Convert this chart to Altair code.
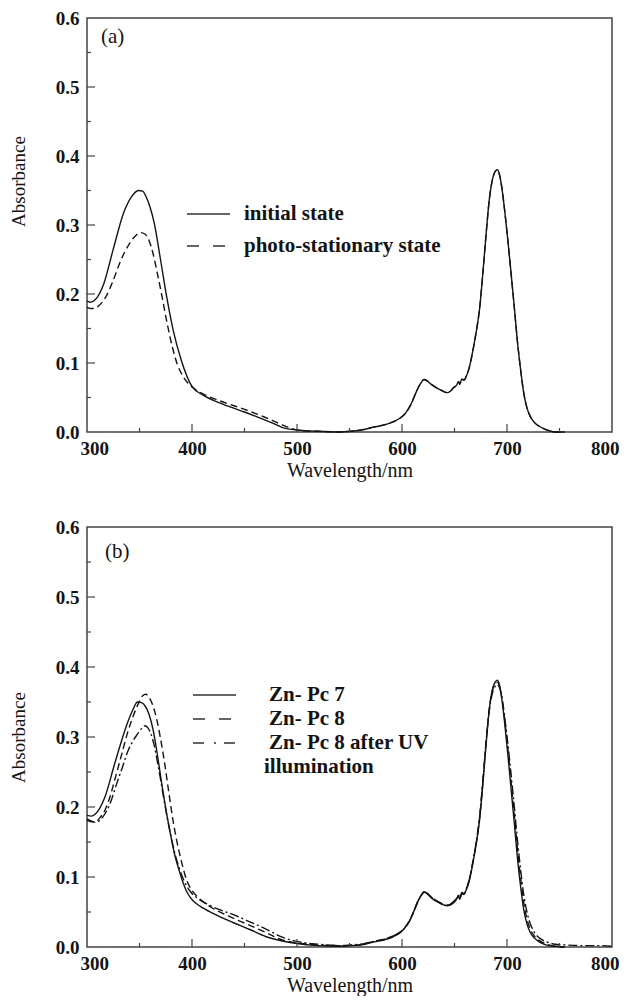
import altair as alt
import pandas as pd

# ---------------- data ----------------
a_init_wl = [300, 303, 308, 316, 325, 335, 342, 349, 353, 356, 360, 364, 370, 376, 382, 390,
             400, 411, 425, 437, 450, 462, 475, 487, 500, 520, 540]
a_init_A = [0.190, 0.188, 0.192, 0.215, 0.265, 0.318, 0.340, 0.350, 0.349, 0.342, 0.326, 0.303,
            0.250, 0.195, 0.148, 0.103, 0.066, 0.053, 0.043, 0.036, 0.029, 0.022, 0.014, 0.006,
            0.003, 0.001, 0.000]
a_photo_wl = [300, 303, 307, 312, 318, 325, 332, 340, 346, 351, 355, 359, 363, 367, 371, 376,
              381, 386, 391, 396, 402, 411, 425, 440, 455, 470, 485, 495, 505, 520, 540]
a_photo_A = [0.181, 0.179, 0.179, 0.184, 0.196, 0.220, 0.248, 0.272, 0.284, 0.289, 0.287, 0.278,
             0.258, 0.230, 0.200, 0.160, 0.125, 0.098, 0.082, 0.071, 0.063, 0.055, 0.046, 0.038,
             0.030, 0.021, 0.011, 0.005, 0.002, 0.001, 0.000]

q_wl = [551, 565, 573, 585, 592, 598, 602, 606, 610, 613, 616, 618, 621, 624, 628, 633, 638,
        643, 646, 649, 652, 654, 655, 657, 659, 661, 664, 668, 671, 674, 677, 680, 683, 686,
        689, 691, 693, 695, 698, 701, 704, 707, 710, 713, 716, 719, 722, 726, 730, 735, 740,
        746, 755]
q_a = [0.001, 0.004, 0.007, 0.011, 0.015, 0.020, 0.025, 0.033, 0.045, 0.056, 0.066, 0.071,
       0.076, 0.074, 0.069, 0.064, 0.060, 0.057, 0.059, 0.064, 0.068, 0.073, 0.069, 0.077,
       0.075, 0.080, 0.093, 0.122, 0.148, 0.180, 0.230, 0.285, 0.335, 0.365, 0.378, 0.380,
       0.372, 0.355, 0.318, 0.275, 0.228, 0.180, 0.130, 0.090, 0.056, 0.035, 0.023, 0.014,
       0.009, 0.005, 0.002, 0.000, 0.000]

b7_wl = [300, 304, 308, 317, 326, 333, 339, 344, 348, 352, 355, 359, 363, 367, 371, 375, 379,
         383, 387, 391, 395, 401, 408, 420, 439, 455, 470, 485, 500, 520, 540]
b7_A = [0.188, 0.187, 0.190, 0.214, 0.260, 0.295, 0.322, 0.340, 0.350, 0.349, 0.345, 0.333,
        0.310, 0.275, 0.235, 0.198, 0.165, 0.135, 0.113, 0.094, 0.079, 0.066, 0.058, 0.048,
        0.035, 0.025, 0.015, 0.009, 0.005, 0.002, 0.001]
q_b7 = [0.002, 0.004, 0.007, 0.011, 0.015, 0.020, 0.026, 0.034, 0.046, 0.058, 0.068, 0.073,
        0.078, 0.076, 0.070, 0.065, 0.061, 0.059, 0.061, 0.065, 0.069, 0.072, 0.068, 0.076,
        0.075, 0.081, 0.094, 0.124, 0.150, 0.183, 0.232, 0.288, 0.338, 0.367, 0.379, 0.381,
        0.373, 0.355, 0.317, 0.272, 0.224, 0.176, 0.126, 0.086, 0.053, 0.033, 0.021, 0.013,
        0.008, 0.004, 0.002, 0.001, 0.000]

b8_wl = [300, 304, 308, 313, 317, 322, 327, 333, 339, 344, 349, 353, 356, 359, 362, 366, 370,
         374, 378, 382, 386, 390, 395, 400, 405, 412, 420, 435, 455, 470, 486, 500, 520, 540]
b8_A = [0.181, 0.179, 0.179, 0.186, 0.195, 0.215, 0.242, 0.275, 0.308, 0.330, 0.348, 0.359,
        0.361, 0.357, 0.348, 0.328, 0.298, 0.262, 0.220, 0.180, 0.148, 0.122, 0.095, 0.081,
        0.072, 0.063, 0.055, 0.044, 0.031, 0.021, 0.010, 0.006, 0.003, 0.002]
q_b8 = [0.002, 0.005, 0.008, 0.012, 0.016, 0.021, 0.027, 0.035, 0.047, 0.058, 0.068, 0.073,
        0.078, 0.077, 0.071, 0.066, 0.062, 0.060, 0.061, 0.064, 0.069, 0.074, 0.071, 0.078,
        0.076, 0.082, 0.096, 0.125, 0.152, 0.186, 0.236, 0.290, 0.338, 0.366, 0.377, 0.378,
        0.372, 0.357, 0.322, 0.280, 0.234, 0.188, 0.140, 0.098, 0.063, 0.040, 0.026, 0.016,
        0.010, 0.006, 0.003, 0.001, 0.000]

buv_wl = [300, 304, 308, 313, 317, 322, 328, 334, 339, 344, 348, 352, 355, 358, 361, 364, 367,
          370, 373, 376, 380, 384, 388, 392, 398, 405, 415, 425, 440, 455, 470, 486, 500, 520, 540]
buv_A = [0.183, 0.180, 0.178, 0.182, 0.190, 0.205, 0.232, 0.258, 0.280, 0.295, 0.304, 0.312,
         0.316, 0.313, 0.304, 0.288, 0.265, 0.240, 0.213, 0.188, 0.158, 0.132, 0.112, 0.096,
         0.080, 0.070, 0.061, 0.054, 0.046, 0.036, 0.026, 0.014, 0.008, 0.004, 0.002]
q_buv = [0.003, 0.005, 0.008, 0.012, 0.016, 0.021, 0.026, 0.034, 0.046, 0.057, 0.067, 0.073,
         0.079, 0.077, 0.071, 0.066, 0.062, 0.059, 0.060, 0.063, 0.068, 0.073, 0.070, 0.077,
         0.076, 0.082, 0.096, 0.126, 0.153, 0.187, 0.238, 0.292, 0.336, 0.362, 0.373, 0.375,
         0.370, 0.358, 0.326, 0.288, 0.245, 0.200, 0.152, 0.110, 0.074, 0.050, 0.034, 0.021,
         0.014, 0.009, 0.006, 0.004, 0.003]
buv_tail_wl = [770, 790, 800]
buv_tail_A = [0.002, 0.002, 0.001]

x_ticks_major = [400, 500, 600, 700]
x_ticks_minor = [350, 450, 550, 650, 750]
y_ticks_major = [0.1, 0.2, 0.3, 0.4, 0.5]
y_ticks_minor = [0.05, 0.15, 0.25, 0.35, 0.45, 0.55]
x_tick_labels = [300, 400, 500, 600, 700, 800]
y_tick_labels = [0.0, 0.1, 0.2, 0.3, 0.4, 0.5, 0.6]

legend_a = ["initial state", "photo-stationary state"]
legend_b = ["Zn- Pc 7", "Zn- Pc 8", "Zn- Pc 8 after UV"]

# ---------------- styling ----------------
SERIF = "Liberation Serif"
INK = "#141414"
X_SCALE = alt.Scale(domain=[300, 800], nice=False, zero=False)
Y_SCALE = alt.Scale(domain=[0, 0.6], nice=False)


def make_x_axis():
    return alt.Axis(values=x_tick_labels, format="d", title="Wavelength/nm", grid=False,
                    domain=False, ticks=False, labelPadding=7, labelFont=SERIF,
                    labelFontWeight="bold", labelFontSize=19, labelColor=INK, titleFont=SERIF,
                    titleFontWeight="normal", titleFontSize=20, titleColor=INK, titlePadding=2,
                    labelFlush=True, labelFlushOffset=7)


def make_y_axis(title_y=None):
    kw = dict(values=y_tick_labels, format=".1f", title="Absorbance", grid=False,
              domain=False, ticks=False, labelPadding=8, labelFont=SERIF,
              labelFontWeight="bold", labelFontSize=19, labelColor=INK, titleFont=SERIF,
              titleFontWeight="normal", titleFontSize=19, titleColor=INK, titlePadding=27,
              labelFlush=False)
    if title_y is not None:
        kw["titleY"] = title_y
    return alt.Axis(**kw)


DASH = {"solid": None, "dash": [7, 4], "dashdot": [9, 3, 2, 3]}


def curve(wl, vals, style, xa, ya):
    df = pd.DataFrame({"wl": wl, "A": vals})
    kw = dict(color=INK, strokeWidth=1.4, interpolate="monotone")
    if DASH[style]:
        kw["strokeDash"] = DASH[style]
    return alt.Chart(df).mark_line(**kw).encode(
        x=alt.X("wl:Q", scale=X_SCALE, axis=xa),
        y=alt.Y("A:Q", scale=Y_SCALE, axis=ya),
    )


def tick_layers(H, xa, ya):
    layers = []
    for vals, ln in ((x_ticks_major, 8), (x_ticks_minor, 4)):
        layers.append(alt.Chart(pd.DataFrame({"wl": vals})).mark_rule(color="#444", strokeWidth=1.2)
                      .encode(x=alt.X("wl:Q", scale=X_SCALE, axis=xa),
                              y=alt.value(H), y2=alt.value(H - ln)))
    for vals, ln in ((y_ticks_major, 8), (y_ticks_minor, 4)):
        layers.append(alt.Chart(pd.DataFrame({"A": vals})).mark_rule(color="#444", strokeWidth=1.2)
                      .encode(y=alt.Y("A:Q", scale=Y_SCALE, axis=ya),
                              x=alt.value(0), x2=alt.value(ln)))
    return layers


def text_at(t, x, y, size=21, weight="bold"):
    return alt.Chart(pd.DataFrame({"t": [t]})).mark_text(
        font=SERIF, fontSize=size, fontWeight=weight, color=INK, align="left", baseline="middle"
    ).encode(x=alt.value(x), y=alt.value(y), text="t:N")


def sample(style, x0, x1, y):
    kw = dict(color="#333", strokeWidth=1.4)
    if style == "dash":
        kw["strokeDash"] = [12, 14]
    elif style == "dashdot":
        kw["strokeDash"] = [11, 10, 2, 8]
    return alt.Chart(pd.DataFrame({"s": [style]})).mark_rule(**kw).encode(
        x=alt.value(x0), x2=alt.value(x1), y=alt.value(y))


# ---------------- panel (a) ----------------
WA, HA = 525, 414
xa_a, ya_a = make_x_axis(), make_y_axis(title_y=163)
panel_a = alt.layer(
    curve(a_init_wl + q_wl, a_init_A + q_a, "solid", xa_a, ya_a),
    curve(a_photo_wl + q_wl, a_photo_A + q_a, "dash", xa_a, ya_a),
    *tick_layers(HA, xa_a, ya_a),
    text_at("(a)", 14, 19, size=21, weight="normal"),
    sample("solid", 100, 143, 196),
    sample("dash", 100, 143, 228),
    text_at(legend_a[0], 157, 196),
    text_at(legend_a[1], 157, 228),
).properties(width=WA, height=HA)

# ---------------- panel (b) ----------------
WB, HB = 525, 420
xa_b, ya_b = make_x_axis(), make_y_axis()
panel_b = alt.layer(
    curve(b7_wl + q_wl, b7_A + q_b7, "solid", xa_b, ya_b),
    curve(b8_wl + q_wl, b8_A + q_b8, "dash", xa_b, ya_b),
    curve(buv_wl + q_wl + buv_tail_wl, buv_A + q_buv + buv_tail_A, "dashdot", xa_b, ya_b),
    *tick_layers(HB, xa_b, ya_b),
    text_at("(b)", 18, 25, size=21, weight="normal"),
    sample("solid", 106, 149, 168),
    sample("dash", 106, 149, 192),
    sample("dashdot", 106, 149, 216),
    text_at(legend_b[0], 182, 168),
    text_at(legend_b[1], 182, 192),
    text_at(legend_b[2], 182, 216),
    text_at("illumination", 177, 240),
).properties(width=WB, height=HB)

chart = alt.vconcat(panel_a, panel_b, spacing=36).properties(
    padding={"left": 0, "top": 0, "right": 0, "bottom": 0}
).configure(background="white").configure_view(stroke="#444", strokeWidth=1.5)

chart.save("out.html", embed_options={"renderer": "svg", "actions": False})
